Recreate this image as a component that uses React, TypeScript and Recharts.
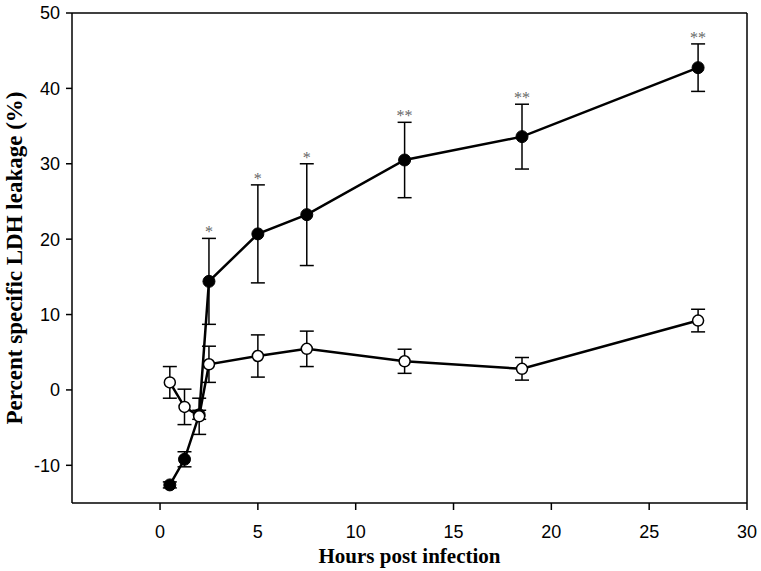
import { LineChart, Line, XAxis, YAxis, ErrorBar, ReferenceLine, LabelList } from "recharts"

const hours = [0.5, 1.25, 2, 2.5, 5, 7.5, 12.5, 18.5, 27.5]
const infected = [-12.6, -9.2, -3.3, 14.4, 20.7, 23.25, 30.5, 33.6, 42.75]
const infectedErr = [0.4, 1.0, 0.6, 5.7, 6.5, 6.75, 5.0, 4.3, 3.15]
const control = [1.0, -2.25, -3.5, 3.4, 4.5, 5.45, 3.8, 2.8, 9.2]
const controlErr = [2.1, 2.35, 2.4, 2.4, 2.8, 2.35, 1.6, 1.5, 1.5]
const significance = ["", "", "", "*", "*", "*", "**", "**", "**"]

const xTicks = [0, 5, 10, 15, 20, 25, 30]
const yTicks = [-10, 0, 10, 20, 30, 40, 50]

type Punto = {
  hours: number
  infected: number
  infectedErr: number
  control: number
  controlErr: number
  sig: string
  sigTop: number | null
}

const data: Punto[] = hours.map((h, i) => ({
  hours: h,
  infected: infected[i],
  infectedErr: infectedErr[i],
  control: control[i],
  controlErr: controlErr[i],
  sig: significance[i],
  sigTop: significance[i] ? infected[i] + infectedErr[i] : null,
}))

const tickStyle = { fontFamily: "'Liberation Sans', Arial, sans-serif", fontSize: 18, fill: "#000" }
const titleFont = "'Liberation Serif', 'Times New Roman', serif"

const SigLabel = (props: any) => {
  const { x, y, value } = props
  if (!value || y == null) return null
  return (
    <text x={x} y={y - 1} textAnchor="middle" fontFamily={titleFont} fontSize={16} fill="#666">
      {value}
    </text>
  )
}

const App = () => {
  return (
    <div style={{ position: "absolute", left: 0, top: 0 }}>
      <LineChart width={761} height={571} data={data} margin={{ top: 13, right: 14, left: 0, bottom: 0 }}>
        <XAxis
          dataKey="hours"
          type="number"
          domain={[-4.5, 30]}
          ticks={xTicks}
          allowDataOverflow
          height={68}
          stroke="#000"
          strokeWidth={1.5}
          tickSize={7}
          tickMargin={15}
          tick={tickStyle}
          label={{
            value: "Hours post infection",
            position: "insideBottom",
            offset: 8,
            style: { fontFamily: titleFont, fontSize: 21, fontWeight: "bold", fill: "#000" },
          }}
        />
        <YAxis
          type="number"
          domain={[-15, 50]}
          ticks={yTicks}
          allowDataOverflow
          width={72}
          stroke="#000"
          strokeWidth={1.5}
          tickSize={6}
          tickMargin={6}
          tick={tickStyle}
          label={{
            value: "Percent specific LDH leakage (%)",
            angle: -90,
            position: "insideLeft",
            offset: 14,
            style: { textAnchor: "middle", fontFamily: titleFont, fontSize: 23, fontWeight: "bold", fill: "#000" },
          }}
        />
        <ReferenceLine y={50} stroke="#000" strokeWidth={1.5} />
        <ReferenceLine x={30} stroke="#000" strokeWidth={1.5} />
        <Line
          dataKey="infected"
          stroke="#000"
          strokeWidth={2.5}
          isAnimationActive={false}
          dot={{ r: 6, fill: "#000", stroke: "#000", strokeWidth: 1 }}
        >
          <ErrorBar dataKey="infectedErr" direction="y" width={7} stroke="#000" strokeWidth={1.5} />
        </Line>
        <Line
          dataKey="control"
          stroke="#000"
          strokeWidth={2.5}
          isAnimationActive={false}
          dot={{ r: 5.5, fill: "#fff", stroke: "#000", strokeWidth: 1.5 }}
        >
          <ErrorBar dataKey="controlErr" direction="y" width={7} stroke="#000" strokeWidth={1.5} />
        </Line>
        <Line
          dataKey="sigTop"
          stroke="none"
          dot={false}
          activeDot={false}
          legendType="none"
          isAnimationActive={false}
        >
          <LabelList dataKey="sig" content={SigLabel} />
        </Line>
      </LineChart>
    </div>
  )
}

export default App
